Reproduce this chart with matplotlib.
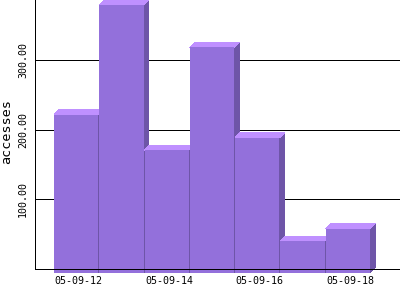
import matplotlib
matplotlib.use("Agg")
import matplotlib.pyplot as plt
from matplotlib.patches import Polygon
from matplotlib.transforms import IdentityTransform

# ---- data ----
dates = ["05-09-12", "05-09-13", "05-09-14", "05-09-15", "05-09-16", "05-09-17", "05-09-18"]
accesses = [227, 385, 176, 324, 194, 45, 63]
ytick_values = [100, 200, 300]
ytick_labels = ["100.00", "200.00", "300.00"]
xtick_labels = ["05-09-12", "05-09-14", "05-09-16", "05-09-18"]
xtick_index = [0, 2, 4, 6]

# ---- style ----
FRONT = "#9370DB"
TOP = "#BF90FF"
SIDE = "#6E55A8"
DPI = 100
DEPTH_X, DEPTH_Y = 5.0, 5.0      # pixels
FRONT_DROP = 3.5                  # pixels the front face is shifted down
BAR_W = 0.978
MONO = "DejaVu Sans Mono"

fig = plt.figure(figsize=(4, 3), dpi=DPI)
ax = fig.add_axes([35 / 400, 31 / 300, 365 / 400, 269 / 300])
ax.set_xlim(-0.419, 7.638)
ax.set_ylim(0, 387)

for s in ("top", "right"):
    ax.spines[s].set_visible(False)
ax.spines["left"].set_linewidth(0.72)
ax.spines["bottom"].set_linewidth(0.72)
ax.spines["bottom"].set_zorder(20)
ax.spines["left"].set_zorder(20)

ax.set_yticks(ytick_values)
ax.set_yticklabels([])
ax.tick_params(axis="y", length=0)
ax.yaxis.grid(True, color="black", linewidth=0.72)
ax.set_axisbelow(True)

# x tick labels centred on the 3-D box (front + depth)
px_per_unit = ax.transData.transform((1, 0))[0] - ax.transData.transform((0, 0))[0]
depth_units = DEPTH_X / px_per_unit
ax.set_xticks([i + BAR_W / 2 + depth_units / 2 for i in xtick_index])
ax.set_xticklabels(xtick_labels, family=MONO, fontsize=7.2)
ax.tick_params(axis="x", length=0, pad=5)

# y tick labels, rotated
ylab_tr = ax.get_yaxis_transform()
for v, lab in zip(ytick_values, ytick_labels):
    ax.text(-12 / 365, v, lab, transform=ylab_tr, rotation=90,
            ha="center", va="center", family=MONO, fontsize=7.2)

ax.set_ylabel("accesses", family=MONO, fontsize=9.7, va="center")
ax.yaxis.set_label_coords(-28 / 365, (269 - 132) / 269)

# 3-D bars drawn in display pixels derived from the data transform
ident = IdentityTransform()
for i, v in enumerate(accesses):
    (x0, y0) = ax.transData.transform((i, 0))
    (x1, y1) = ax.transData.transform((i + BAR_W, v))
    y0 -= FRONT_DROP
    y1 -= FRONT_DROP
    side = Polygon([(x1, y0), (x1 + DEPTH_X, y0 + DEPTH_Y), (x1 + DEPTH_X, y1 + DEPTH_Y), (x1, y1)],
                   closed=True, facecolor=SIDE, edgecolor="none", transform=ident,
                   clip_on=False, zorder=5 + i, antialiased=False)
    top = Polygon([(x0, y1), (x1, y1), (x1 + DEPTH_X, y1 + DEPTH_Y), (x0 + DEPTH_X, y1 + DEPTH_Y)],
                  closed=True, facecolor=TOP, edgecolor="none", transform=ident,
                  clip_on=False, zorder=5 + i, antialiased=False)
    front = Polygon([(x0, y0), (x1, y0), (x1, y1), (x0, y1)],
                    closed=True, facecolor=FRONT, edgecolor="none", transform=ident,
                    clip_on=False, zorder=5 + i, antialiased=False)
    ax.add_patch(side)
    ax.add_patch(top)
    ax.add_patch(front)

fig.savefig("out.png", dpi=DPI)
